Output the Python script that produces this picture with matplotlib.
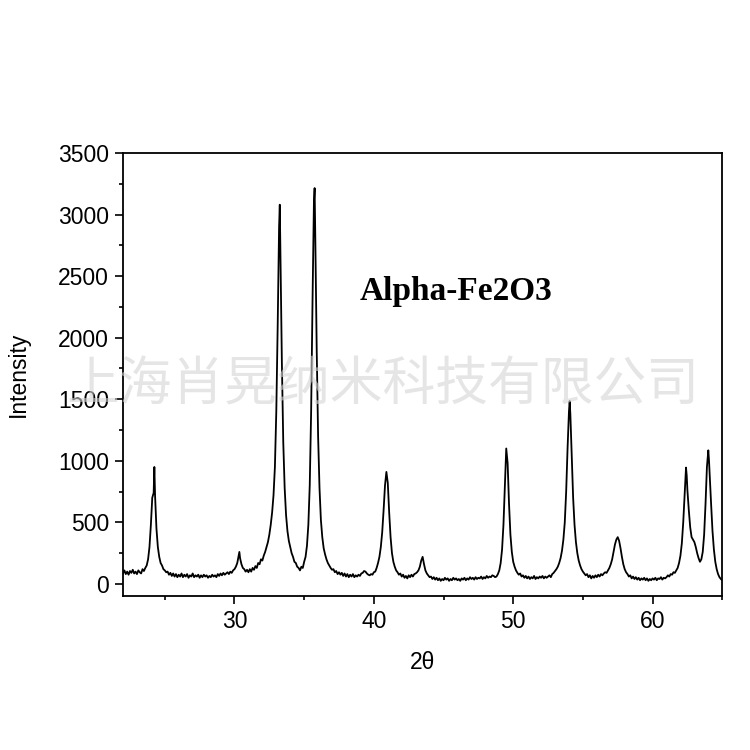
import matplotlib
matplotlib.use('Agg')
import matplotlib.pyplot as plt
from matplotlib.ticker import MultipleLocator

# XRD pattern of alpha-Fe2O3
two_theta = [
    22.0, 22.1, 22.2, 22.3, 22.4, 22.5, 22.6, 22.7, 22.8, 22.9,
    23.0, 23.1, 23.2, 23.3, 23.4, 23.5, 23.6, 23.7, 23.8, 23.9,
    24.0, 24.1, 24.2, 24.25, 24.3, 24.4, 24.5, 24.6, 24.7, 24.8,
    24.9, 25.0, 25.1, 25.2, 25.3, 25.4, 25.5, 25.6, 25.7, 25.8,
    25.9, 26.0, 26.1, 26.2, 26.3, 26.4, 26.5, 26.6, 26.7, 26.8,
    26.9, 27.0, 27.1, 27.2, 27.3, 27.4, 27.5, 27.6, 27.7, 27.8,
    27.9, 28.0, 28.1, 28.2, 28.3, 28.4, 28.5, 28.6, 28.7, 28.8,
    28.9, 29.0, 29.1, 29.2, 29.3, 29.4, 29.5, 29.6, 29.7, 29.8,
    29.9, 30.0, 30.1, 30.2, 30.3, 30.35, 30.4, 30.5, 30.6, 30.7,
    30.8, 30.9, 31.0, 31.1, 31.2, 31.3, 31.4, 31.5, 31.6, 31.7,
    31.8, 31.9, 32.0, 32.1, 32.2, 32.3, 32.4, 32.5, 32.6, 32.7,
    32.8, 32.9, 33.0, 33.1, 33.2, 33.25, 33.3, 33.4, 33.5, 33.6,
    33.7, 33.8, 33.9, 34.0, 34.1, 34.2, 34.3, 34.4, 34.5, 34.6,
    34.7, 34.8, 34.9, 35.0, 35.1, 35.2, 35.3, 35.4, 35.5, 35.6,
    35.7, 35.75, 35.8, 35.9, 36.0, 36.1, 36.2, 36.3, 36.4, 36.5,
    36.6, 36.7, 36.8, 36.9, 37.0, 37.1, 37.2, 37.3, 37.4, 37.5,
    37.6, 37.7, 37.8, 37.9, 38.0, 38.1, 38.2, 38.3, 38.4, 38.5,
    38.6, 38.7, 38.8, 38.9, 39.0, 39.1, 39.2, 39.3, 39.4, 39.5,
    39.6, 39.7, 39.8, 39.9, 40.0, 40.1, 40.2, 40.3, 40.4, 40.5,
    40.6, 40.7, 40.8, 40.9, 41.0, 41.1, 41.2, 41.3, 41.4, 41.5,
    41.6, 41.7, 41.8, 41.9, 42.0, 42.1, 42.2, 42.3, 42.4, 42.5,
    42.6, 42.7, 42.8, 42.9, 43.0, 43.1, 43.2, 43.3, 43.4, 43.5,
    43.6, 43.7, 43.8, 43.9, 44.0, 44.1, 44.2, 44.3, 44.4, 44.5,
    44.6, 44.7, 44.8, 44.9, 45.0, 45.1, 45.2, 45.3, 45.4, 45.5,
    45.6, 45.7, 45.8, 45.9, 46.0, 46.1, 46.2, 46.3, 46.4, 46.5,
    46.6, 46.7, 46.8, 46.9, 47.0, 47.1, 47.2, 47.3, 47.4, 47.5,
    47.6, 47.7, 47.8, 47.9, 48.0, 48.1, 48.2, 48.3, 48.4, 48.5,
    48.6, 48.7, 48.8, 48.9, 49.0, 49.1, 49.2, 49.3, 49.4, 49.5,
    49.6, 49.7, 49.8, 49.9, 50.0, 50.1, 50.2, 50.3, 50.4, 50.5,
    50.6, 50.7, 50.8, 50.9, 51.0, 51.1, 51.2, 51.3, 51.4, 51.5,
    51.6, 51.7, 51.8, 51.9, 52.0, 52.1, 52.2, 52.3, 52.4, 52.5,
    52.6, 52.7, 52.8, 52.9, 53.0, 53.1, 53.2, 53.3, 53.4, 53.5,
    53.6, 53.7, 53.8, 53.9, 54.0, 54.05, 54.1, 54.2, 54.3, 54.4,
    54.5, 54.6, 54.7, 54.8, 54.9, 55.0, 55.1, 55.2, 55.3, 55.4,
    55.5, 55.6, 55.7, 55.8, 55.9, 56.0, 56.1, 56.2, 56.3, 56.4,
    56.5, 56.6, 56.7, 56.8, 56.9, 57.0, 57.1, 57.2, 57.3, 57.4,
    57.5, 57.6, 57.7, 57.8, 57.9, 58.0, 58.1, 58.2, 58.3, 58.4,
    58.5, 58.6, 58.7, 58.8, 58.9, 59.0, 59.1, 59.2, 59.3, 59.4,
    59.5, 59.6, 59.7, 59.8, 59.9, 60.0, 60.1, 60.2, 60.3, 60.4,
    60.5, 60.6, 60.7, 60.8, 60.9, 61.0, 61.1, 61.2, 61.3, 61.4,
    61.5, 61.6, 61.7, 61.8, 61.9, 62.0, 62.1, 62.2, 62.3, 62.4,
    62.45, 62.5, 62.6, 62.7, 62.8, 62.9, 63.0, 63.1, 63.2, 63.3,
    63.4, 63.5, 63.6, 63.7, 63.8, 63.9, 64.0, 64.05, 64.1, 64.2,
    64.3, 64.4, 64.5, 64.6, 64.7, 64.8, 64.9, 65.0,
]
intensity = [
    85, 110, 80, 100, 75, 105, 90, 115, 85, 100,
    80, 110, 95, 85, 120, 105, 130, 150, 200, 300,
    480, 700, 740, 950, 720, 450, 300, 220, 170, 150,
    120, 110, 95, 100, 75, 90, 65, 85, 60, 80,
    55, 75, 60, 85, 55, 75, 60, 80, 50, 70,
    60, 85, 55, 70, 60, 75, 50, 70, 55, 75,
    60, 70, 50, 65, 55, 75, 60, 70, 55, 80,
    65, 85, 70, 90, 75, 85, 95, 80, 100, 90,
    110, 120, 140, 170, 230, 260, 210, 160, 130, 120,
    100, 115, 95, 120, 100, 130, 115, 145, 130, 170,
    160, 200, 190, 230, 260, 300, 340, 400, 480, 580,
    720, 950, 1400, 2100, 2900, 3080, 2650, 1800, 1150, 780,
    560, 430, 350, 300, 250, 220, 180, 170, 140, 130,
    110, 140, 130, 180, 220, 310, 480, 800, 1400, 2300,
    3100, 3215, 2800, 1900, 1200, 780, 520, 380, 290, 240,
    200, 170, 150, 130, 115, 120, 95, 105, 80, 95,
    75, 90, 65, 85, 60, 80, 55, 75, 60, 80,
    55, 70, 60, 75, 65, 85, 90, 105, 100, 85,
    75, 70, 80, 75, 95, 100, 130, 170, 220, 300,
    420, 600, 800, 910, 820, 580, 380, 250, 180, 140,
    110, 95, 75, 85, 60, 75, 50, 65, 45, 70,
    55, 75, 60, 80, 85, 95, 110, 140, 190, 220,
    160, 110, 85, 70, 55, 60, 40, 55, 35, 50,
    30, 45, 25, 40, 30, 50, 35, 45, 25, 40,
    30, 50, 35, 45, 30, 40, 25, 45, 35, 50,
    30, 45, 35, 55, 40, 50, 35, 55, 40, 50,
    45, 60, 40, 55, 45, 65, 50, 60, 55, 70,
    65, 55, 60, 80, 110, 170, 280, 480, 800, 1100,
    980, 650, 400, 260, 180, 140, 110, 90, 75, 85,
    60, 70, 50, 65, 45, 60, 40, 55, 45, 65,
    40, 55, 45, 60, 50, 65, 45, 60, 50, 60,
    70, 55, 80, 90, 105, 120, 140, 170, 210, 270,
    360, 500, 750, 1100, 1400, 1485, 1380, 1050, 700, 480,
    340, 250, 190, 150, 120, 100, 85, 70, 80, 55,
    70, 45, 65, 50, 70, 55, 75, 60, 80, 70,
    85, 95, 90, 110, 130, 160, 200, 260, 320, 360,
    380, 350, 290, 220, 160, 120, 95, 80, 60, 70,
    45, 60, 40, 55, 35, 50, 30, 45, 35, 50,
    30, 45, 25, 40, 30, 45, 35, 50, 30, 45,
    40, 55, 35, 50, 45, 55, 70, 60, 80, 75,
    95, 90, 110, 130, 170, 230, 330, 500, 720, 945,
    880, 760, 600, 460, 380, 360, 340, 300, 250, 210,
    180, 200, 260, 400, 650, 950, 1085, 1000, 880, 650,
    430, 280, 180, 120, 80, 55, 40, 30,
]

x_label = '2\u03b8'
y_label = 'Intensity'
sample_name = 'Alpha-Fe2O3'
watermark = '上海肖晃纳米科技有限公司'

fig = plt.figure(figsize=(7.5, 7.5), dpi=100)
ax = fig.add_axes([0.164, 0.205, 0.799, 0.591])

ax.plot(two_theta, intensity, color='black', linewidth=1.3)

ax.set_xlim(22, 65)
ax.set_ylim(-100, 3500)
ax.xaxis.set_major_locator(MultipleLocator(10))
ax.xaxis.set_minor_locator(MultipleLocator(5))
ax.yaxis.set_major_locator(MultipleLocator(500))
ax.yaxis.set_minor_locator(MultipleLocator(250))
ax.tick_params(which='both', direction='out', top=False, right=False,
               labelsize=16.5, width=1.2)
ax.tick_params(which='major', length=6, pad=4)
ax.tick_params(which='minor', length=3)
for lbl in ax.get_xticklabels() + ax.get_yticklabels():
    lbl.set_family('Liberation Sans')
for sp in ax.spines.values():
    sp.set_linewidth(1.3)

ax.set_xlabel(x_label, fontsize=16.5, family='Liberation Sans', labelpad=13)
ax.set_ylabel(y_label, fontsize=16.5, family='Liberation Sans', labelpad=20)

ax.text(0.395, 0.687, sample_name, transform=ax.transAxes, va='center',
        fontsize=24, fontweight='bold', family='Liberation Serif')

# faint company watermark across the plot
fig.text(0.511, 0.487, watermark, ha='center', va='center', fontsize=38,
         color='#d4d4d4', alpha=0.6, family=['Noto Sans CJK SC', 'DejaVu Sans'],
         zorder=10)

fig.savefig('out.png', dpi=100)
